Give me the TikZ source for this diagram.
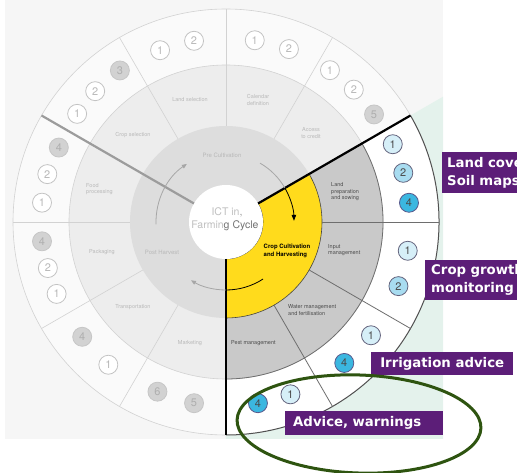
\documentclass[tikz,border=0pt]{standalone}
\usepackage{fontspec}
\setmainfont{TeX Gyre Heros}
\newfontfamily\boxfont{DejaVu Sans}
\usetikzlibrary{arrows.meta}
\definecolor{bgc}{HTML}{F6F6F6}
\definecolor{mint}{HTML}{E4F2EC}
\definecolor{ringout}{HTML}{FAFAFA}
\definecolor{ringmid}{HTML}{EDEDED}
\definecolor{ringin}{HTML}{DDDDDD}
\definecolor{cropmid}{HTML}{C9C9C9}
\definecolor{cropyel}{HTML}{FFDB1C}
\definecolor{lightline}{HTML}{D2D2D2}
\definecolor{darkline}{HTML}{6E6E6E}
\definecolor{lighttext}{HTML}{B8B8B8}
\definecolor{darktext}{HTML}{4A4A4A}
\definecolor{purp}{HTML}{5C1E78}
\definecolor{ellg}{HTML}{2E5410}
\definecolor{bA}{HTML}{D6EFF8}
\definecolor{bB}{HTML}{A8DCF0}
\definecolor{bC}{HTML}{3BB7E0}
\newcommand\ringsec[5]{\path[#1] (#2:#4) arc[start angle=#2,end angle=#3,radius=#4] -- (#3:#5) arc[start angle=#3,end angle=#2,radius=#5] -- cycle;}
\begin{document}
\begin{tikzpicture}[x=1pt,y=1pt,
  numbase/.style={circle,minimum size=19pt,inner sep=0pt,line width=0.8pt,font=\fontsize{11}{11}\selectfont},
  numplain/.style={numbase,fill=white,draw=lighttext!85,text=lighttext},
  numgray/.style={numbase,fill=ringin!95!black,draw=lighttext!80,text=lighttext!95!black},
  numA/.style={numbase,fill=bA,draw=darkline!90!blue,text=darktext},
  numB/.style={numbase,fill=bB,draw=darkline!90!blue,text=darktext},
  numC/.style={numbase,fill=bC,draw=darkline!80!blue,text=darktext},
  lbl/.style={font=\fontsize{5.5}{6.5}\selectfont,text=lighttext,align=center,inner sep=0pt},
  clbl/.style={font=\fontsize{5.5}{6.5}\selectfont,text=darktext,align=left,inner sep=0pt,anchor=west},
  divl/.style={draw=lightline,line width=0.6pt},
  divd/.style={draw=darkline,line width=0.8pt},
  pbox/.style={fill=purp,text=white,font=\boxfont\bfseries\fontsize{13.3}{18}\selectfont,inner ysep=2pt},
  garrow/.style={draw=lighttext!90!black,line width=0.8pt},
  karrow/.style={draw=black,line width=0.8pt}
]
\useasboundingbox (-226,-251) rectangle (291,222);
\clip (-226,-251) rectangle (291,222);
% background
\fill[bgc] (-221,222) rectangle (217,-217);
\fill[mint] (0,0) -- (217,125.3) -- (217,-217) -- (0,-217) -- cycle;
% rings
\fill[ringout,draw=lightline,line width=0.6pt] (0,0) circle[radius=213pt];
\ringsec{fill=white}{30}{-90}{157pt}{213pt}
\fill[ringmid,draw=lightline,line width=0.6pt] (0,0) circle[radius=157pt];
\ringsec{fill=cropmid}{30}{-90}{96pt}{157pt}
\fill[ringin] (0,0) circle[radius=96pt];
\ringsec{fill=cropyel,draw=darkline!60!black,line width=0.6pt}{30}{-90}{37pt}{96pt}
\fill[white] (0,0) circle[radius=37pt];
% crop sector outlines
\draw[divd] (30:157pt) arc[start angle=30,end angle=-90,radius=157pt];
\draw[draw=darkline!120,line width=1pt] (30:213pt) arc[start angle=30,end angle=-90,radius=213pt];
% dividers
\foreach \a in {60,90,120,180,210,240} {\draw[divl] (\a:96pt) -- (\a:213pt);}
\foreach \a in {0,-30,-60} {\draw[divd] (\a:96pt) -- (\a:213pt);}
% main separators
\draw[lighttext!85!black,line width=2.2pt] (150:37pt) -- (150:213pt);
\draw[black,line width=2.2pt] (30:37pt) -- (30:213pt);
\draw[black,line width=2.2pt] (-90:37pt) -- (-90:213pt);
% cycle arrows
\draw[garrow,-{Triangle[length=5pt,width=4pt]}] (182:70pt) arc[start angle=182,end angle=124,radius=70pt];
\draw[garrow] (60:68pt) arc[start angle=60,end angle=30,radius=68pt];
\draw[karrow,-{Triangle[length=6pt,width=4.5pt]}] (30:68pt) arc[start angle=30,end angle=1,radius=68pt];
\draw[karrow] (-57:68pt) arc[start angle=-57,end angle=-90,radius=68pt];
\draw[garrow,-{Triangle[length=5pt,width=4pt]}] (-90:68pt) arc[start angle=-90,end angle=-121,radius=68pt];
% centre
\node[font=\fontsize{10.5}{10.5}\selectfont,text=lighttext!90,inner sep=0pt] (ict) at (1,10) {ICT in\textcolor{black!40},};
\node[font=\fontsize{10.5}{10.5}\selectfont,text=lighttext!90,inner sep=0pt] (fc) at (-1,-4) {Farmin\textcolor{black!55}{g Cycle}};
% sector labels
\node[lbl,font=\fontsize{6}{7}\selectfont] (pre) at (-4,67) {Pre Cultivation};
\node[lbl,font=\fontsize{6}{7}\selectfont] (post) at (-64,-30) {Post Harvest};
\node[font=\bfseries\fontsize{6}{7.5}\selectfont,text=black,align=left,inner sep=0pt] (ccu) at (61,-29) {Crop Cultivation\\and Harvesting};
% sub-stage labels
\node[lbl] (ls) at (-36,122) {Land selection};
\node[lbl] (cd) at (32,122) {Calendar\\definition};
\node[lbl] (ac) at (85,89) {Access\\to credit};
\node[lbl] (cs) at (-93,87) {Crop selection};
\node[lbl,align=left,anchor=west] (fp) at (-140,33) {Food\\processing};
\node[lbl] (pk) at (-124,-30) {Packaging};
\node[lbl] (tr) at (-93,-85) {Transportation};
\node[lbl] (mk) at (-36,-121) {Marketing};
\node[clbl] (lp) at (105,30) {Land\\preparation\\and sowing};
\node[clbl] (im) at (102,-28) {Input\\management};
\node[clbl] (wm) at (62,-88) {Water management\\and fertilisation};
\node[clbl] (pm) at (5,-121) {Pest management};
% numbers: pre cultivation
\node[numplain] (p1) at (55.6:184pt) {1};
\node[numplain] (p2) at (46:184pt) {2};
\node[numgray]  (p3) at (36:183pt) {5};
\node[numplain] (p4) at (81:184pt) {1};
\node[numplain] (p5) at (70:184pt) {2};
\node[numplain] (p6) at (111:184pt) {1};
\node[numplain] (p7) at (100:184pt) {2};
\node[numgray]  (p8) at (125:185pt) {3};
\node[numplain] (p9) at (135:185pt) {2};
\node[numplain] (p10) at (144:184pt) {1};
% post harvest
\node[numgray]  (h1) at (156:183pt) {4};
\node[numplain] (h2) at (165:185pt) {2};
\node[numplain] (h3) at (174:185pt) {1};
\node[numgray]  (h4) at (186:185pt) {4};
\node[numplain] (h5) at (194.5:184pt) {2};
\node[numplain] (h6) at (203:184pt) {1};
\node[numgray]  (h7) at (218.6:184pt) {4};
\node[numplain] (h8) at (230.5:185pt) {1};
\node[numgray]  (h9) at (248:183pt) {6};
\node[numgray]  (h10) at (260:184pt) {5};
% crop cultivation
\node[numA] (c1) at (25:184pt) {1};
\node[numB] (c2) at (15.5:184pt) {2};
\node[numC] (c3) at (6:184pt) {4};
\node[numA] (c4) at (-9:184pt) {1};
\node[numB] (c5) at (-20.4:184pt) {2};
\node[numA] (c6) at (-38:184pt) {1};
\node[numC] (c7) at (-50:184pt) {4};
\node[numA] (c8) at (-69.5:184pt) {1};
\node[numC] (c9) at (-80:184pt) {4};
% purple boxes
\node[pbox,anchor=north west,text width=110pt,align=left,inner xsep=5pt,minimum height=41pt] (bx1) at (216,70) {Land cover,\\Soil maps};
\node[pbox,anchor=north west,text width=110pt,align=left,inner xsep=6pt,minimum height=40pt] (bx2) at (199,-38) {Crop growth\\monitoring};
\node[pbox,anchor=north west,minimum width=142pt,minimum height=23pt,inner xsep=0pt] (bx3) at (145,-130) {Irrigation advice};
\node[pbox,anchor=north west,text width=142pt,align=left,inner xsep=8pt,minimum height=24pt] (bx4) at (59,-189) {Advice, warnings};
% ellipse
\draw[ellg,line width=3pt,rotate around={-2:(133,-202)}] (133,-202) ellipse[x radius=122pt,y radius=49pt];
\end{tikzpicture}
\end{document}
